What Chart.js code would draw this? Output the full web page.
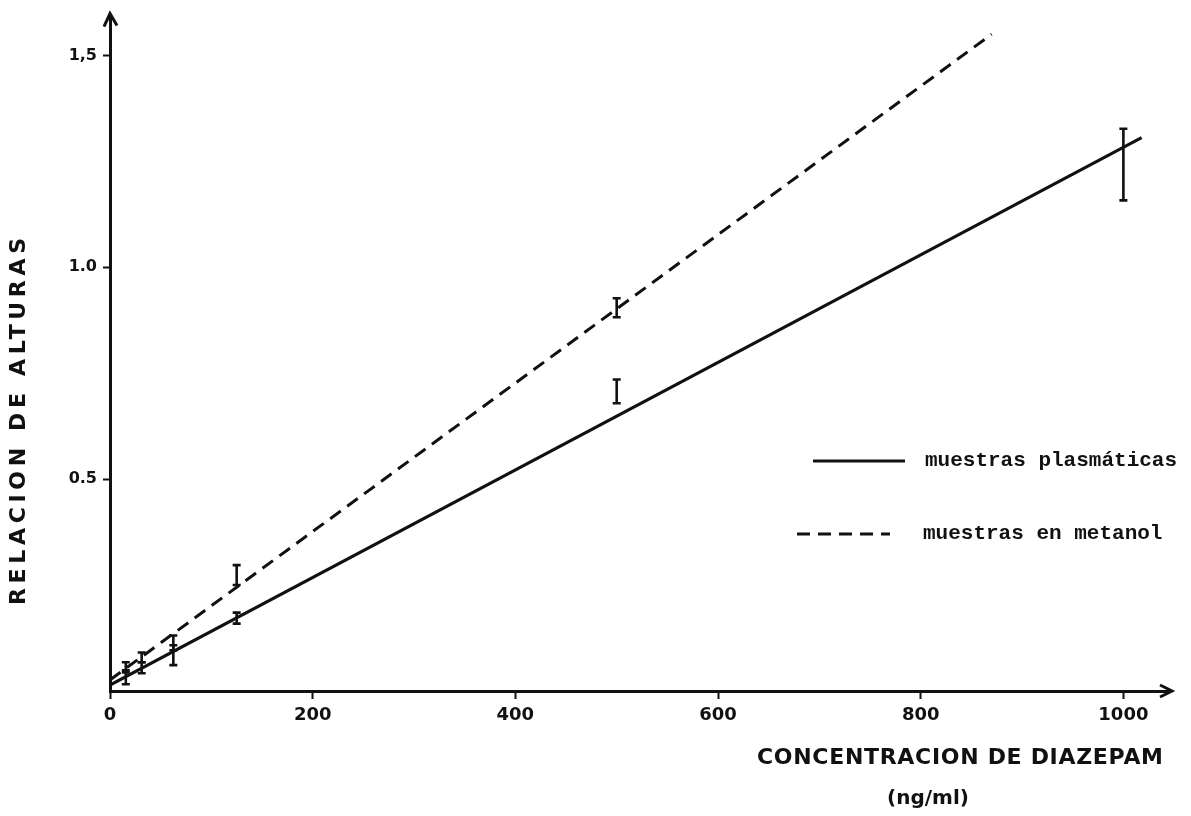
<!DOCTYPE html>
<html>
<head>
<meta charset="utf-8">
<script src="https://cdn.jsdelivr.net/npm/chart.js@4.4.1/dist/chart.umd.min.js"></script>
<style>
html,body{margin:0;padding:0;background:#fff;}
#wrap{width:1191px;height:816px;position:relative;}
</style>
</head>
<body>
<div id="wrap"><canvas id="c" width="1191" height="816"></canvas></div>
<script>
// ---- data ----
const concentrations = [15.6, 31.25, 62.5, 125, 500, 1000];
const plasmaMean = [0.033, 0.055, 0.085, 0.172, 0.707, 1.243];
const plasmaLow  = [0.016, 0.042, 0.061, 0.159, 0.679, 1.158];
const plasmaHigh = [0.049, 0.068, 0.108, 0.185, 0.735, 1.327];
const metanolMean = [0.056, 0.080, 0.113, 0.274, 0.904, null];
const metanolLow  = [0.044, 0.068, 0.096, 0.250, 0.882, null];
const metanolHigh = [0.068, 0.091, 0.131, 0.297, 0.927, null];
const plasmaFitX = [0, 1018];
const plasmaFitY = [0.014, 1.306];
const metanolFitX = [0, 870];
const metanolFitY = [0.026, 1.55];
const xTicks = [0, 200, 400, 600, 800, 1000];
const yTicks = [0.5, 1.0, 1.5];
const yTickLabels = ['0.5', '1.0', '1,5'];
const seriesNames = ['muestras plasmáticas', 'muestras en metanol'];
const xTitle = 'CONCENTRACION DE DIAZEPAM';
const xUnit = '(ng/ml)';
const yTitle = 'RELACION DE ALTURAS';

const INK = '#111';

function fitText(ctx, text, x, y, width, font) {
  ctx.font = font;
  ctx.textAlign = 'left';
  ctx.textBaseline = 'middle';
  const w0 = ctx.measureText(text).width;
  if ('letterSpacing' in ctx) {
    const ls = (width - w0) / (text.length - 1);
    ctx.letterSpacing = ls + 'px';
    ctx.fillText(text, x, y);
    ctx.letterSpacing = '0px';
  } else {
    ctx.save();
    ctx.translate(x, y);
    ctx.scale(width / w0, 1);
    ctx.fillText(text, 0, 0);
    ctx.restore();
  }
}

const decor = {
  id: 'decor',
  afterDatasetsDraw(chart) {
    const ctx = chart.ctx;
    const xs = chart.scales.x, ys = chart.scales.y;
    const area = chart.chartArea;
    ctx.save();
    ctx.strokeStyle = INK;
    ctx.fillStyle = INK;
    ctx.lineCap = 'butt';
    // error bars
    const bars = [[plasmaLow, plasmaHigh], [metanolLow, metanolHigh]];
    bars.forEach(([lo, hi]) => {
      concentrations.forEach((c, i) => {
        if (lo[i] == null) return;
        const px = xs.getPixelForValue(c);
        const y1 = ys.getPixelForValue(lo[i]);
        const y2 = ys.getPixelForValue(hi[i]);
        ctx.lineWidth = 2.6;
        ctx.beginPath();
        ctx.moveTo(px, y1); ctx.lineTo(px, y2);
        ctx.moveTo(px - 4, y1); ctx.lineTo(px + 4, y1);
        ctx.moveTo(px - 4, y2); ctx.lineTo(px + 4, y2);
        ctx.stroke();
      });
    });
    // arrowheads
    ctx.lineWidth = 3;
    ctx.lineJoin = 'miter';
    const ax = area.left, ay = area.top - 2;
    ctx.beginPath();
    ctx.moveTo(ax - 6, ay + 13); ctx.lineTo(ax, ay); ctx.lineTo(ax + 7, ay + 12);
    ctx.stroke();
    const bx = area.right + 2, by = area.bottom;
    ctx.beginPath();
    ctx.moveTo(bx - 12, by - 6); ctx.lineTo(bx, by); ctx.lineTo(bx - 12, by + 6);
    ctx.stroke();
    // axis titles
    fitText(ctx, xTitle, 757, 758, 406, 'bold 22px "DejaVu Sans"');
    ctx.font = 'bold 20px "DejaVu Sans"';
    ctx.textAlign = 'center';
    ctx.textBaseline = 'middle';
    ctx.fillText(xUnit, 928, 799);
    ctx.save();
    ctx.translate(19, 605);
    ctx.rotate(-Math.PI / 2);
    fitText(ctx, yTitle, 0, 0, 367, 'bold 22px "DejaVu Sans"');
    ctx.restore();
    // legend
    const ds = chart.data.datasets;
    const legendRows = [
      {y: 461, x1: 813, x2: 905, tx: 925},
      {y: 534, x1: 797, x2: 890, tx: 923}
    ];
    legendRows.forEach((r, i) => {
      ctx.lineWidth = ds[i].borderWidth;
      ctx.setLineDash(ds[i].borderDash || []);
      ctx.beginPath();
      ctx.moveTo(r.x1, r.y); ctx.lineTo(r.x2, r.y);
      ctx.stroke();
      ctx.setLineDash([]);
      ctx.font = 'bold 21px "Liberation Mono"';
      ctx.textAlign = 'left';
      ctx.textBaseline = 'middle';
      ctx.fillText(seriesNames[i], r.tx, r.y);
    });
    ctx.restore();
  }
};

const toPts = (xa, ya) => xa.map((x, i) => ({x: x, y: ya[i]}));

new Chart(document.getElementById('c'), {
  type: 'scatter',
  data: {
    datasets: [
      {label: seriesNames[0], data: toPts(plasmaFitX, plasmaFitY), showLine: true,
       borderColor: INK, borderWidth: 3, pointRadius: 0, fill: false},
      {label: seriesNames[1], data: toPts(metanolFitX, metanolFitY), showLine: true,
       borderColor: INK, borderWidth: 3, borderDash: [13, 8], pointRadius: 0, fill: false}
    ]
  },
  options: {
    responsive: false,
    animation: false,
    devicePixelRatio: 1,
    layout: {padding: {top: 10, right: 21, left: 0, bottom: 0}},
    plugins: {legend: {display: false}, tooltip: {enabled: false}},
    scales: {
      x: {
        type: 'linear', min: 0, max: 1046,
        afterBuildTicks: (axis) => { axis.ticks = xTicks.map(v => ({value: v})); },
        afterFit: (axis) => { axis.height = 125; },
        grid: {drawOnChartArea: false, drawTicks: true, tickLength: 8, tickWidth: 2, tickColor: INK},
        border: {display: true, color: INK, width: 3},
        ticks: {color: INK, font: {family: 'DejaVu Sans', size: 18, weight: 'bold'}, padding: 6, maxRotation: 0,
                callback: (v) => String(v)}
      },
      y: {
        type: 'linear', min: 0, max: 1.594,
        afterBuildTicks: (axis) => { axis.ticks = yTicks.map(v => ({value: v})); },
        afterFit: (axis) => { axis.width = 110; },
        grid: {drawOnChartArea: false, drawTicks: true, tickLength: 7, tickWidth: 2, tickColor: INK},
        border: {display: true, color: INK, width: 3},
        ticks: {color: INK, font: {family: 'DejaVu Sans', size: 16, weight: 'bold'}, padding: 6,
                callback: (v) => yTickLabels[yTicks.indexOf(v)]}
      }
    }
  },
  plugins: [decor]
});
</script>
</body>
</html>
